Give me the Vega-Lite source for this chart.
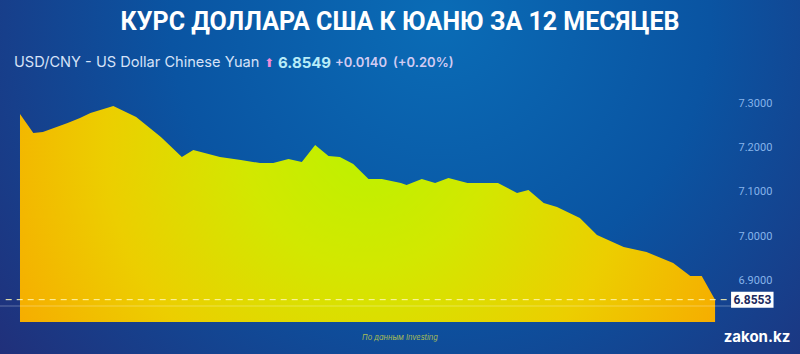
{
  "$schema": "https://vega.github.io/schema/vega-lite/v6.json",
  "width": 800,
  "height": 354,
  "autosize": {"type": "none"},
  "padding": 0,
  "background": "#1d2a6e",
  "config": {
    "view": {"stroke": null},
    "text": {"font": "Inter"}
  },
  "datasets": {
    "rate": [
      {"day": 0, "value": 7.2773},
      {"day": 7, "value": 7.234},
      {"day": 12, "value": 7.2364},
      {"day": 25, "value": 7.2568},
      {"day": 31.5, "value": 7.2682},
      {"day": 37, "value": 7.2795},
      {"day": 49, "value": 7.2955},
      {"day": 61, "value": 7.2705},
      {"day": 74, "value": 7.225},
      {"day": 85, "value": 7.1795},
      {"day": 91, "value": 7.1955},
      {"day": 105, "value": 7.1795},
      {"day": 116, "value": 7.1727},
      {"day": 126, "value": 7.1659},
      {"day": 133, "value": 7.1659},
      {"day": 141, "value": 7.175},
      {"day": 148, "value": 7.1682},
      {"day": 155, "value": 7.2068},
      {"day": 162, "value": 7.1818},
      {"day": 168, "value": 7.1795},
      {"day": 175, "value": 7.1636},
      {"day": 183, "value": 7.1295},
      {"day": 190, "value": 7.1295},
      {"day": 200, "value": 7.1205},
      {"day": 203, "value": 7.1159},
      {"day": 211, "value": 7.1295},
      {"day": 218, "value": 7.1205},
      {"day": 225, "value": 7.1318},
      {"day": 235, "value": 7.1205},
      {"day": 251, "value": 7.1205},
      {"day": 261, "value": 7.0977},
      {"day": 267, "value": 7.1045},
      {"day": 275, "value": 7.075},
      {"day": 282, "value": 7.0659},
      {"day": 294, "value": 7.0409},
      {"day": 303, "value": 7.0023},
      {"day": 317, "value": 6.975},
      {"day": 329, "value": 6.9636},
      {"day": 343, "value": 6.9386},
      {"day": 352, "value": 6.909},
      {"day": 358, "value": 6.909},
      {"day": 365, "value": 6.8553}
    ]
  },
  "layer": [
    {
      "data": {"values": [{}]},
      "mark": {
        "type": "rect",
        "fill": {
          "gradient": "radial",
          "x1": 0.55, "y1": 0.3, "r1": 0,
          "x2": 0.55, "y2": 0.3, "r2": 0.75,
          "stops": [
            {"offset": 0, "color": "#0a6cb6"},
            {"offset": 0.45, "color": "#0a54a2"},
            {"offset": 1, "color": "#242a74"}
          ]
        }
      },
      "encoding": {
        "x": {"value": 0},
        "x2": {"value": "width"},
        "y": {"value": 0},
        "y2": {"value": "height"}
      }
    },
    {
      "data": {"name": "rate"},
      "mark": {
        "type": "area",
        "interpolate": "linear",
        "fill": {
          "gradient": "radial",
          "x1": 0.5, "y1": 0.4, "r1": 0,
          "x2": 0.5, "y2": 0.4, "r2": 0.58,
          "stops": [
            {"offset": 0, "color": "#bcf200"},
            {"offset": 0.3, "color": "#d2e800"},
            {"offset": 0.65, "color": "#ecce00"},
            {"offset": 1, "color": "#f7aa00"}
          ]
        }
      },
      "encoding": {
        "x": {
          "field": "day", "type": "quantitative",
          "scale": {"domain": [-10.5, 409.6], "nice": false, "zero": false},
          "axis": null
        },
        "y": {
          "field": "value", "type": "quantitative",
          "scale": {"domain": [6.73182, 7.53636], "nice": false, "zero": false},
          "axis": {
            "orient": "right",
            "offset": -62,
            "zindex": 2,
            "values": [6.9, 7.0, 7.1, 7.2, 7.3],
            "format": ".4f",
            "title": null,
            "grid": false,
            "ticks": false,
            "domain": false,
            "labelPadding": 0,
            "labelAlign": "left",
            "labelColor": "#86b4ea",
            "labelFont": "Roboto",
            "labelFontSize": 11
          }
        },
        "y2": {"datum": 6.8045}
      }
    },
    {
      "data": {"values": [{}]},
      "mark": {"type": "rule", "stroke": "#ffffff", "strokeOpacity": 0.3, "strokeWidth": 1},
      "encoding": {
        "y": {"datum": 6.8409, "type": "quantitative"},
        "x": {"datum": -10.5, "type": "quantitative"},
        "x2": {"datum": 373.4}
      }
    },
    {
      "data": {"values": [{}]},
      "mark": {"type": "rule", "stroke": "#fff7b0", "strokeDash": [6, 5], "strokeWidth": 1},
      "encoding": {
        "y": {"datum": 6.8553, "type": "quantitative"},
        "x": {"datum": -7.5, "type": "quantitative"},
        "x2": {"datum": 373.4}
      }
    },
    {
      "data": {"values": [{}]},
      "mark": {"type": "rect", "fill": "#ffffff"},
      "encoding": {
        "x": {"datum": 373.4, "type": "quantitative"},
        "x2": {"datum": 395.7},
        "y": {"datum": 6.8371, "type": "quantitative"},
        "y2": {"datum": 6.8735}
      }
    },
    {
      "data": {"values": [{"t": "6.8553"}]},
      "mark": {"type": "text", "font": "Roboto", "fontWeight": "bold", "fontSize": 12, "color": "#1b2a5e", "align": "center", "baseline": "middle"},
      "encoding": {
        "text": {"field": "t"},
        "x": {"datum": 384.6, "type": "quantitative"},
        "y": {"datum": 6.8553, "type": "quantitative"}
      }
    },
    {
      "data": {"values": [{"t": "КУРС ДОЛЛАРА США К ЮАНЮ ЗА 12 МЕСЯЦЕВ"}]},
      "mark": {"type": "text", "font": "Roboto", "fontWeight": "bold", "fontSize": 25, "color": "#ffffff", "align": "center", "baseline": "middle", "x": 400, "y": 22},
      "encoding": {"text": {"field": "t"}}
    },
    {
      "data": {"values": [{"t": "USD/CNY - US Dollar Chinese Yuan"}]},
      "mark": {"type": "text", "fontSize": 14.6, "color": "#d6e2f8", "align": "left", "baseline": "middle", "x": 14, "y": 63},
      "encoding": {"text": {"field": "t"}}
    },
    {
      "data": {"values": [{"t": "⬆"}]},
      "mark": {"type": "text", "font": "DejaVu Sans", "fontSize": 12, "color": "#f08ad8", "align": "left", "baseline": "middle", "x": 264, "y": 63},
      "encoding": {"text": {"field": "t"}}
    },
    {
      "data": {"values": [{"t": "6.8549"}]},
      "mark": {"type": "text", "fontSize": 15, "fontWeight": "bold", "color": "#b8ecf8", "align": "left", "baseline": "middle", "x": 278, "y": 63},
      "encoding": {"text": {"field": "t"}}
    },
    {
      "data": {"values": [{"t": "+0.0140"}]},
      "mark": {"type": "text", "fontSize": 13, "fontWeight": 600, "color": "#d2cbf2", "align": "left", "baseline": "middle", "x": 335, "y": 63},
      "encoding": {"text": {"field": "t"}}
    },
    {
      "data": {"values": [{"t": "(+0.20%)"}]},
      "mark": {"type": "text", "fontSize": 13, "fontWeight": 600, "color": "#d2cbf2", "align": "left", "baseline": "middle", "x": 393, "y": 63},
      "encoding": {"text": {"field": "t"}}
    },
    {
      "data": {"values": [{"t": "По данным Investing"}]},
      "mark": {"type": "text", "fontSize": 7.5, "fontStyle": "italic", "color": "#a9bd55", "align": "center", "baseline": "middle", "x": 400, "y": 338},
      "encoding": {"text": {"field": "t"}}
    },
    {
      "data": {"values": [{"t": "zakon.kz"}]},
      "mark": {"type": "text", "fontSize": 15, "fontWeight": "bold", "color": "#ffffff", "align": "center", "baseline": "middle", "x": 757, "y": 337},
      "encoding": {"text": {"field": "t"}}
    }
  ]
}
